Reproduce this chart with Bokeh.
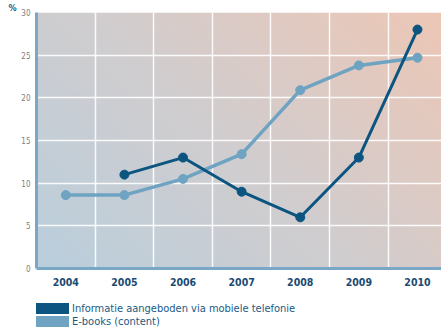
import numpy as np
from bokeh.plotting import figure
from bokeh.layouts import column
from bokeh.models import Range1d, FixedTicker, Legend, LegendItem
from bokeh.embed import file_html
from bokeh.resources import INLINE

years = [2004, 2005, 2006, 2007, 2008, 2009, 2010]
mobiel_years = [2005, 2006, 2007, 2008, 2009, 2010]
mobiel = [11, 13, 9, 6, 13, 28]
ebooks_years = [2004, 2005, 2006, 2007, 2008, 2009, 2010]
ebooks = [8.6, 8.6, 10.5, 13.4, 20.9, 23.8, 24.7]
y_ticks = [0, 5, 10, 15, 20, 25, 30]
y_unit = "%"
label_mobiel = "Informatie aangeboden via mobiele telefonie"
label_ebooks = "E-books (content)"

DARK = "#0b5580"
LIGHT = "#6fa3c2"
AXIS = "#79a7c5"
FONT = "DejaVu Sans Condensed"

x0, x1 = 2003.5, 2010.41
p = figure(width=441, height=298, output_backend="svg", toolbar_location=None,
           x_range=Range1d(x0, x1), y_range=Range1d(0, 30),
           min_border_left=36, min_border_right=0, min_border_top=12, min_border_bottom=30,
           border_fill_color="white", outline_line_color=None)

p.title.text = y_unit
p.title.align = "left"
p.title.offset = -28
p.title.standoff = 0
p.title.text_font = FONT
p.title.text_font_style = "bold"
p.title.text_font_size = "9px"
p.title.text_color = "#1a5a85"

# diagonal gradient background
W, H = 200, 130
u = np.linspace(0, 1, W)[None, :]
v = np.linspace(0, 1, H)[:, None]
t = np.clip((u * 1.5 + v) / 2.5, 0, 1)
c0 = np.array([186, 207, 221])
c1 = np.array([210, 205, 206])
c2 = np.array([237, 199, 182])
img = np.empty((H, W, 4), dtype=np.uint8)
for k in range(3):
    a = np.where(t < 0.5, c0[k] + (c1[k] - c0[k]) * (t / 0.5), c1[k] + (c2[k] - c1[k]) * ((t - 0.5) / 0.5))
    img[:, :, k] = a.astype(np.uint8)
img[:, :, 3] = 255
rgba = img.view(dtype=np.uint32).reshape((H, W))
bg = p.image_rgba(image=[rgba], x=x0, y=0, dw=x1 - x0, dh=30)
bg.level = "image"

p.xgrid.ticker = FixedTicker(ticks=[y + 0.5 for y in years[:-1]])
p.ygrid.ticker = FixedTicker(ticks=y_ticks[1:-1])
for g in (p.xgrid, p.ygrid):
    g.grid_line_color = "white"
    g.grid_line_width = 1.5
    g.grid_line_alpha = 0.9

p.xaxis.ticker = FixedTicker(ticks=years)
p.yaxis.ticker = FixedTicker(ticks=y_ticks)
for ax in (p.xaxis, p.yaxis):
    ax.axis_line_color = AXIS
    ax.axis_line_width = 3
    ax.major_tick_line_color = None
    ax.minor_tick_line_color = None
    ax.major_tick_out = 0
    ax.major_tick_in = 0
p.xaxis.major_label_text_font = FONT
p.xaxis.major_label_text_font_style = "bold"
p.xaxis.major_label_text_font_size = "10.5px"
p.xaxis.major_label_text_color = "#1a4a72"
p.xaxis.major_label_standoff = 9
p.yaxis.major_label_text_font = FONT
p.yaxis.major_label_text_font_size = "8px"
p.yaxis.major_label_text_color = "#808080"
p.yaxis.major_label_standoff = 6

p.line(ebooks_years, ebooks, line_color=LIGHT, line_width=3.5)
p.scatter(ebooks_years, ebooks, size=9, fill_color=LIGHT, line_color=LIGHT)
p.line(mobiel_years, mobiel, line_color=DARK, line_width=3)
p.scatter(mobiel_years, mobiel, size=9, fill_color=DARK, line_color=DARK)

# legend strip (series lines live outside its visible range; only the legend shows)
q = figure(width=441, height=31, output_backend="svg", toolbar_location=None,
           x_range=Range1d(0, 1), y_range=Range1d(0, 1),
           x_axis_type=None, y_axis_type=None,
           min_border_left=0, min_border_right=0, min_border_top=0, min_border_bottom=0,
           outline_line_color=None)
q.xgrid.visible = False
q.ygrid.visible = False
r1 = q.line(mobiel_years, mobiel, line_color=DARK, line_width=12)
r2 = q.line(ebooks_years, ebooks, line_color=LIGHT, line_width=12)
legend = Legend(items=[LegendItem(label=label_mobiel, renderers=[r1]),
                       LegendItem(label=label_ebooks, renderers=[r2])],
                location=(-2, 1), orientation="vertical",
                glyph_width=35, glyph_height=11, label_height=11, spacing=0,
                padding=0, margin=0, label_standoff=3,
                label_text_font=FONT, label_text_font_size="11px", label_text_color="#1a5a85",
                border_line_color=None, background_fill_color=None, background_fill_alpha=0)
q.add_layout(legend)

open("out.html", "w").write(file_html(column(p, q, spacing=0), INLINE))
